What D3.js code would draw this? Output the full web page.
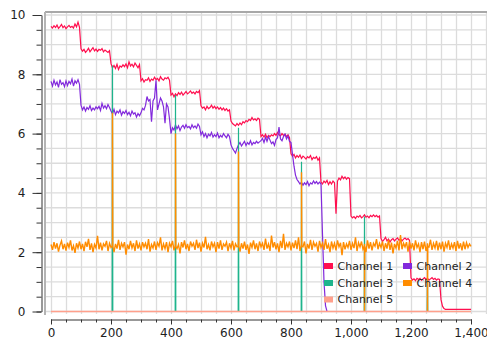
<!DOCTYPE html>
<html>
<head>
<meta charset="utf-8">
<script src="https://cdn.jsdelivr.net/npm/d3@7"></script>
<style>
  body { margin: 0; background: #fff; }
  .axis text { font-family: "DejaVu Sans", Verdana, sans-serif; font-size: 12px; fill: #1e1e1e; }
  .axis path, .axis line { stroke: #333; }
  .legend text { font-family: "DejaVu Sans", Verdana, sans-serif; font-size: 11px; fill: #222; }
</style>
</head>
<body>
<div class="chart"></div>
<script>
// Channel chart - five noisy channels over 1400 samples

// Sample positions (every 5 samples)
var sampleX = d3.range(0, 1401, 5);

// Channel 1 values (one row = 100 samples)
var channel1 = [
  9.62, 9.56, 9.64, 9.58, 9.66, 9.55, 9.61, 9.68, 9.57, 9.63, 9.54, 9.6, 9.65, 9.58, 9.62, 9.56, 9.7, 9.6, 9.76, 9.58,
  8.86, 8.78, 8.84, 8.74, 8.8, 8.88, 8.76, 8.83, 8.9, 8.79, 8.85, 8.77, 8.84, 8.81, 8.87, 8.76, 8.82, 8.78, 8.74, 8.8,
  8.36, 8.22, 8.3, 8.2, 8.34, 8.16, 8.28, 8.24, 8.32, 8.26, 8.35, 8.22, 8.42, 8.28, 8.34, 8.25, 8.38, 8.3, 8.22, 8.33,
  7.78, 7.85, 7.74, 7.82, 7.8, 7.88, 7.76, 7.84, 7.8, 7.9, 7.82, 7.86, 7.78, 7.92, 7.84, 7.8, 7.88, 7.85, 7.9, 7.8,
  7.3, 7.36, 7.24, 7.34, 7.28, 7.38, 7.32, 7.4, 7.3, 7.36, 7.42, 7.34, 7.38, 7.44, 7.36, 7.4, 7.34, 7.42, 7.38, 7.45,
  6.94, 6.86, 6.9, 6.8, 6.92, 6.84, 6.88, 6.96, 6.86, 6.92, 6.84, 6.9, 6.82, 6.88, 6.8, 6.86, 6.78, 6.84, 6.76, 6.8,
  6.42, 6.34, 6.3, 6.26, 6.34, 6.28, 6.36, 6.3, 6.4, 6.36, 6.44, 6.4, 6.48, 6.44, 6.54, 6.46, 6.5, 6.44, 6.52, 6.48,
  5.9, 5.96, 5.88, 5.98, 5.86, 5.94, 5.9, 5.96, 5.92, 6.0, 5.94, 6.04, 5.96, 5.92, 6.0, 5.94, 5.98, 5.9, 5.96, 5.86,
  5.32, 5.24, 5.3, 5.18, 5.26, 5.2, 5.28, 5.16, 5.24, 5.2, 5.14, 5.22, 5.18, 5.26, 5.12, 5.2, 5.16, 5.22, 5.1, 5.18,
  4.36, 4.3, 4.4, 4.34, 4.42, 4.28, 4.38, 4.3, 4.4, 4.34, 3.3, 4.4, 4.5, 4.44, 4.56, 4.48, 4.54, 4.46, 4.52, 4.48,
  3.22, 3.16, 3.2, 3.14, 3.22, 3.18, 3.24, 3.16, 3.2, 3.26, 3.18, 3.22, 3.16, 3.24, 3.2, 3.26, 3.2, 3.24, 3.18, 3.22,
  2.46, 2.36, 2.42, 2.5, 2.38, 2.44, 2.34, 2.42, 2.46, 2.38, 2.44, 2.48, 2.4, 2.45, 2.38, 2.44, 2.48, 2.42, 2.46, 2.4,
  1.14, 1.06, 1.1, 1.04, 1.12, 1.08, 1.12, 1.05, 1.1, 1.14, 1.08, 1.12, 1.06, 1.1, 1.14, 1.08, 1.12, 1.06, 1.1, 1.08,
  0.4, 0.18, 0.1, 0.07, 0.07, 0.07, 0.07, 0.07, 0.07, 0.07, 0.07, 0.07, 0.07, 0.07, 0.07, 0.07, 0.07, 0.07, 0.07, 0.07,
  0.07
];

// Channel 2 values
var channel2 = [
  7.76, 7.6, 7.8, 7.64, 7.74, 7.56, 7.82, 7.66, 7.72, 7.58, 7.78, 7.62, 7.76, 7.68, 7.84, 7.6, 7.78, 7.7, 7.82, 7.66,
  6.96, 6.8, 6.9, 6.76, 6.88, 6.82, 6.94, 6.78, 6.86, 6.8, 6.9, 6.84, 6.92, 6.78, 7.02, 6.86, 6.94, 6.84, 6.98, 6.88,
  6.76, 6.66, 6.82, 6.64, 6.76, 6.7, 6.8, 6.62, 6.74, 6.68, 6.78, 6.64, 6.72, 6.6, 6.76, 6.66, 6.7, 6.56, 6.68, 6.6,
  6.7, 6.85, 6.8, 6.95, 7.25, 7.1, 7.15, 6.4, 7.1, 7.2, 7.8, 6.8, 7.0, 7.2, 7.1, 6.9, 6.35, 7.0, 6.9, 6.5,
  6.0, 6.2, 6.12, 6.3, 6.16, 6.26, 6.1, 6.22, 6.28, 6.18, 6.3, 6.2, 6.24, 6.16, 6.3, 6.2, 6.26, 6.18, 6.32, 6.24,
  5.96, 6.06, 5.9, 6.0, 5.86, 5.98, 5.92, 6.04, 5.88, 5.96, 5.9, 6.02, 5.86, 5.94, 5.88, 6.0, 5.92, 5.86, 5.98, 5.9,
  5.62, 5.5, 5.42, 5.34, 5.5, 5.62, 5.7, 5.58, 5.66, 5.74, 5.6, 5.7, 5.64, 5.76, 5.62, 5.7, 5.66, 5.74, 5.68, 5.72,
  5.76, 5.84, 5.7, 5.88, 5.74, 5.9, 5.78, 5.66, 5.72, 5.6, 5.8, 5.86, 6.22, 5.82, 5.76, 5.9, 5.98, 5.82, 5.92, 5.74,
  5.7, 5.3, 4.9, 4.6, 4.45, 4.38, 4.3, 4.36, 4.26, 4.34, 4.28, 4.38, 4.24, 4.34, 4.3, 4.4, 4.32, 4.38, 4.3, 4.36,
  4.3, 2.6, 1.0, 0.2, 0, 0, 0, 0, 0, 0, 0, 0, 0, 0, 0, 0, 0, 0, 0, 0,
  0, 0, 0, 0, 0, 0, 0, 0, 0, 0, 0, 0, 0, 0, 0, 0, 0, 0, 0, 0,
  0, 0, 0, 0, 0, 0, 0, 0, 0, 0, 0, 0, 0, 0, 0, 0, 0, 0, 0, 0,
  0, 0, 0, 0, 0, 0, 0, 0, 0, 0, 0, 0, 0, 0, 0, 0, 0, 0, 0, 0,
  0, 0, 0, 0, 0, 0, 0, 0, 0, 0, 0, 0, 0, 0, 0, 0, 0, 0, 0, 0,
  0
];

// Channel 3 is flat at zero with single-sample spikes
var channel3X = [0, 204, 205, 206, 414, 415, 416, 624, 625, 626, 834, 835, 836, 1044, 1045, 1046, 1254, 1255, 1256, 1400];
var channel3Y = [0, 0, 8.3, 0, 0, 7.3, 0, 0, 6.2, 0, 0, 5.05, 0, 0, 3.2, 0, 0, 1.1, 0, 0];

// Channel 4 noise around 2.2
var channel4 = [
  2.26, 2.08, 2.34, 2.12, 2.3, 2.02, 2.24, 2.38, 2.1, 2.28, 2.05, 2.32, 2.16, 2.4, 2.06, 2.22, 1.98, 2.3, 2.14, 2.36,
  2.1, 2.28, 2.04, 2.35, 2.18, 2.45, 2.08, 2.3, 2.0, 2.26, 2.14, 2.55, 2.1, 2.32, 2.06, 2.28, 2.2, 2.38, 2.04, 2.3,
  2.16, 2.36, 2.0, 2.28, 2.12, 2.42, 2.08, 2.3, 2.18, 2.34, 1.92, 2.26, 2.1, 2.38, 2.14, 2.3, 2.04, 2.4, 2.12, 2.28,
  2.06, 2.34, 2.18, 2.3, 2.1, 2.44, 2.02, 2.26, 2.14, 2.36, 2.08, 2.32, 2.2, 2.5, 2.06, 2.28, 2.12, 2.34, 2.0, 2.3,
  2.18, 2.38, 2.06, 2.3, 2.12, 2.26, 1.96, 2.34, 2.16, 2.4, 2.1, 2.28, 2.04, 2.36, 2.2, 2.3, 2.08, 2.42, 2.14, 2.32,
  2.02, 2.3, 2.16, 2.52, 2.1, 2.26, 2.06, 2.36, 2.18, 2.3, 2.0, 2.34, 2.12, 2.4, 2.08, 2.28, 2.2, 2.34, 2.04, 2.3,
  2.14, 2.38, 2.06, 2.28, 2.18, 2.44, 2.02, 2.3, 2.12, 2.36, 2.08, 2.26, 1.94, 2.32, 2.16, 2.4, 2.1, 2.3, 2.04, 2.36,
  2.18, 2.3, 2.08, 2.46, 2.12, 2.28, 2.04, 2.56, 2.16, 2.34, 2.1, 2.3, 2.0, 2.38, 2.14, 2.62, 2.08, 2.3, 2.18, 2.36,
  2.06, 2.32, 2.14, 2.4, 2.1, 2.5, 2.04, 2.3, 2.18, 2.36, 1.96, 2.28, 2.12, 2.42, 2.08, 2.34, 2.2, 2.3, 2.02, 2.38,
  2.16, 2.3, 2.08, 2.44, 2.12, 2.26, 2.0, 2.36, 2.14, 2.3, 2.06, 2.4, 2.18, 2.32, 1.9, 2.34, 2.1, 2.28, 2.16, 2.38,
  2.08, 2.3, 2.14, 2.5, 2.04, 2.32, 2.18, 2.36, 2.1, 2.28, 2.0, 2.4, 2.12, 2.34, 2.06, 2.3, 2.2, 2.44, 2.1, 2.3,
  2.16, 2.36, 2.04, 2.3, 2.12, 2.42, 2.08, 2.32, 1.96, 2.28, 2.14, 2.38, 2.06, 2.58, 2.1, 2.3, 2.18, 2.34, 2.02, 2.36,
  2.12, 2.3, 2.06, 2.4, 2.16, 2.28, 2.0, 2.34, 2.1, 2.36, 2.04, 2.3, 2.18, 2.42, 2.08, 2.3, 2.14, 2.38, 2.06, 2.32,
  2.1, 2.36, 2.02, 2.3, 2.16, 2.4, 2.08, 2.28, 2.14, 2.34, 2.04, 2.38, 2.12, 2.3, 2.06, 2.36, 2.1, 2.32, 2.16, 2.28,
  2.2
];
// Channel 4 spikes (extra samples)
var channel4SpikeX = [204, 205, 206, 414, 415, 416, 624, 625, 626, 834, 835, 836, 1044, 1045, 1046, 1254, 1255, 1256];
var channel4SpikeY = [2.2, 6.7, 2.2, 2.2, 6.0, 2.2, 2.2, 5.4, 2.2, 2.2, 4.7, 2.2, 2.2, 0, 2.2, 2.2, 0, 2.2];

// Channel 5 stays at zero
var channel5X = [0, 1400];
var channel5Y = [0, 0];

var channelNames = ["Channel 1", "Channel 2", "Channel 3", "Channel 4", "Channel 5"];
var channelColors = ["#ff0f4f", "#8229dc", "#1eb48c", "#ff8c00", "#ffa08c"];
var channelWidths = [1.2, 1.2, 1.2, 1.4, 1.6];

var xTicksMajor = [0, 200, 400, 600, 800, 1000, 1200, 1400];
var yTicksMajor = [0, 2, 4, 6, 8, 10];

// Chart dimensions
var svgWidth = 487;
var svgHeight = 340;

var plot = { left: 45, top: 12, right: 488, bottom: 314 };

var svg = d3.select(".chart")
  .append("svg")
  .attr("width", svgWidth)
  .attr("height", svgHeight);

var xLinearScale = d3.scaleLinear()
  .domain([0, 1400])
  .range([51, 471]);

var yLinearScale = d3.scaleLinear()
  .domain([0, 10])
  .range([311.5, 15]);

// Gridlines
var gridGroup = svg.append("g");

gridGroup.selectAll(".vgrid")
  .data(d3.range(0, 1451, 50))
  .enter()
  .append("line")
  .attr("x1", d => Math.round(xLinearScale(d)) + 0.5)
  .attr("x2", d => Math.round(xLinearScale(d)) + 0.5)
  .attr("y1", plot.top)
  .attr("y2", plot.bottom)
  .attr("stroke", "#dcdcdc")
  .attr("stroke-width", 1.3);

gridGroup.selectAll(".hgrid")
  .data(d3.range(0, 10.01, 0.5))
  .enter()
  .append("line")
  .attr("x1", plot.left)
  .attr("x2", plot.right)
  .attr("y1", d => yLinearScale(d))
  .attr("y2", d => yLinearScale(d))
  .attr("stroke", "#dcdcdc")
  .attr("stroke-width", 1.3);

// Plot frame (top and left)
svg.append("line")
  .attr("x1", plot.left).attr("x2", plot.right)
  .attr("y1", plot.top).attr("y2", plot.top)
  .attr("stroke", "#a8a8a8")
  .attr("stroke-width", 2);

svg.append("line")
  .attr("x1", plot.left).attr("x2", plot.left)
  .attr("y1", plot.top).attr("y2", plot.bottom + 1)
  .attr("stroke", "#b4b4b4")
  .attr("stroke-width", 2);

// Build the series
var lineGen = d3.line()
  .x(d => xLinearScale(d[0]))
  .y(d => yLinearScale(d[1]));

var ch4Points = sampleX.map((x, i) => [x, channel4[i]])
  .concat(channel4SpikeX.map((x, i) => [x, channel4SpikeY[i]]))
  .sort((a, b) => a[0] - b[0]);

var series = [
  sampleX.map((x, i) => [x, channel1[i]]),
  sampleX.map((x, i) => [x, channel2[i]]),
  channel3X.map((x, i) => [x, channel3Y[i]]),
  ch4Points,
  channel5X.map((x, i) => [x, channel5Y[i]])
];

var linesGroup = svg.append("g");

linesGroup.selectAll("path")
  .data(series)
  .enter()
  .append("path")
  .attr("d", d => lineGen(d))
  .attr("fill", "none")
  .attr("stroke", (d, i) => channelColors[i])
  .attr("stroke-width", (d, i) => channelWidths[i]);

// Y axis: minor ticks every 0.5, labels every 2
svg.append("g")
  .attr("class", "axis")
  .attr("transform", "translate(41.5, 0)")
  .call(d3.axisLeft(yLinearScale).tickValues(d3.range(0, 10.01, 0.5)).tickSize(5).tickSizeOuter(0).tickFormat(""));

svg.append("g")
  .attr("class", "axis")
  .attr("transform", "translate(41.5, 0)")
  .call(d3.axisLeft(yLinearScale).tickValues(yTicksMajor).tickSize(9).tickSizeOuter(0).tickPadding(7))
  .select(".domain").remove();

// X axis: minor ticks every 50, labels every 200
svg.append("g")
  .attr("class", "axis")
  .attr("transform", "translate(0, 319.5)")
  .call(d3.axisBottom(xLinearScale).tickValues(d3.range(0, 1401, 50)).tickSize(3).tickSizeOuter(0).tickFormat(""));

svg.append("g")
  .attr("class", "axis")
  .attr("transform", "translate(0, 319.5)")
  .call(d3.axisBottom(xLinearScale).tickValues(xTicksMajor).tickSize(5).tickSizeOuter(0).tickPadding(4).tickFormat(d3.format(",")))
  .select(".domain").remove();

// Legend - two columns
var legendPos = [[324, 266], [403, 266], [324, 283], [403, 283], [324, 299.5]];

var legend = svg.append("g").attr("class", "legend");

var legendItems = legend.selectAll("g")
  .data(channelNames)
  .enter()
  .append("g")
  .attr("transform", (d, i) => `translate(${legendPos[i][0]}, ${legendPos[i][1]})`);

legendItems.append("rect")
  .attr("x", 0)
  .attr("y", -3)
  .attr("width", 9)
  .attr("height", 6)
  .attr("fill", (d, i) => channelColors[i]);

legendItems.append("text")
  .attr("x", 13.5)
  .attr("y", 0)
  .attr("dy", "0.35em")
  .text(d => d);
</script>
</body>
</html>
